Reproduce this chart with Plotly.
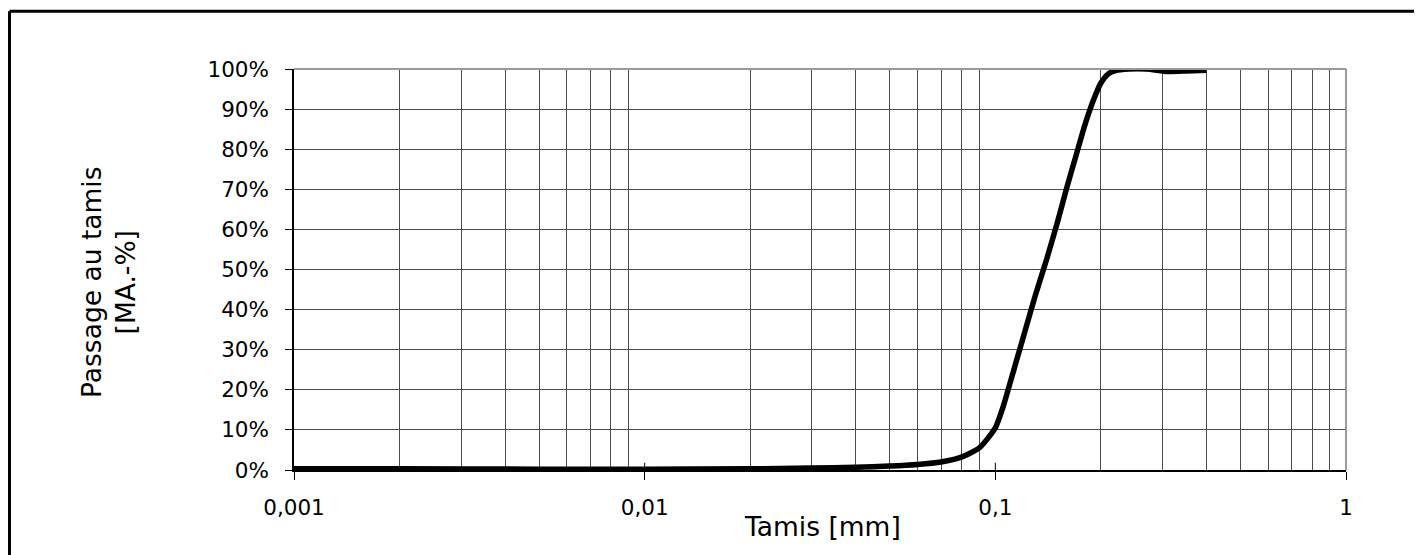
import plotly.graph_objects as go

# Data (sieve size in mm, passing in %)
sieve_mm = [0.001, 0.002, 0.005, 0.01, 0.02, 0.03, 0.04, 0.05, 0.06, 0.07,
            0.08, 0.09, 0.1, 0.105, 0.11, 0.12, 0.13, 0.14, 0.15, 0.16,
            0.17, 0.18, 0.19, 0.20, 0.21, 0.22, 0.24, 0.27, 0.31, 0.35, 0.40]
passing_pct = [0.3, 0.3, 0.2, 0.2, 0.3, 0.5, 0.7, 1.0, 1.4, 2.0,
               3.2, 5.5, 10.5, 15.5, 21.5, 33.0, 43.5, 52.5, 61.5, 70.5,
               78.5, 86.0, 92.0, 96.5, 98.8, 99.6, 100.0, 100.0, 99.4, 99.5, 99.7]

x_tickvals = [0.001, 0.01, 0.1, 1]
x_ticktext = ["0,001", "0,01", "0,1", "1"]
y_tickvals = [0, 10, 20, 30, 40, 50, 60, 70, 80, 90, 100]
y_ticktext = ["0%", "10%", "20%", "30%", "40%", "50%", "60%", "70%", "80%", "90%", "100%"]
minor_vals = [k * 10.0 ** e for e in (-3, -2, -1) for k in range(2, 10)]

FONT = "Verdana, DejaVu Sans, sans-serif"
OFF = 8  # default page body margin
W, H = 1422 - OFF, 555 - OFF
PL, PR, PT, PB = 294, 1346, 69, 470  # plot area in window pixels
L, T = PL - OFF, PT - OFF
R, B = W - (PR - OFF), H - (PB - OFF)
pw, ph = PR - PL, PB - PT

def px_x(p):
    return (p - PL) / pw

def px_y(p):
    return (PB - p) / ph

fig = go.Figure()
fig.add_trace(go.Scatter(
    x=sieve_mm, y=passing_pct, mode="lines",
    line=dict(color="black", width=5.5, shape="spline", smoothing=0.6),
    showlegend=False, hoverinfo="skip"))

shapes = []
shapes.append(dict(type="line", xref="paper", yref="paper", x0=0, x1=1, y0=1, y1=1,
                   line=dict(color="#9a9a9a", width=2)))
shapes.append(dict(type="line", xref="paper", yref="paper", x0=1, x1=1, y0=0, y1=1,
                   line=dict(color="#9a9a9a", width=2)))
for v in x_tickvals[1:-1]:
    shapes.append(dict(type="line", xref="x", yref="y", x0=v, x1=v, y0=0, y1=1.8,
                       line=dict(color="black", width=1)))
shapes.append(dict(type="line", xref="paper", yref="paper",
                   x0=px_x(9.5), x1=px_x(1440), y0=px_y(11.3), y1=px_y(11.3),
                   line=dict(color="black", width=3)))
shapes.append(dict(type="line", xref="paper", yref="paper",
                   x0=px_x(9.5), x1=px_x(9.5), y0=px_y(11.3), y1=px_y(570),
                   line=dict(color="black", width=3)))

fig.update_layout(
    width=W, height=H,
    margin=dict(l=L, r=R, t=T, b=B),
    paper_bgcolor="white", plot_bgcolor="white",
    font=dict(family=FONT, size=21.5, color="black"),
    shapes=shapes,
    annotations=[
        dict(text="Tamis [mm]", xref="paper", yref="paper",
             x=px_x(822), y=px_y(526), xanchor="center", yanchor="middle",
             showarrow=False, font=dict(family=FONT, size=26.5, color="black")),
        dict(text="Passage au tamis<br>[MA.-%]", xref="paper", yref="paper",
             x=px_x(108), y=px_y(282), xanchor="center", yanchor="middle",
             textangle=-90, showarrow=False,
             font=dict(family=FONT, size=26.5, color="black")),
    ],
)

fig.update_xaxes(
    type="log", range=[-3, 0],
    tickvals=x_tickvals, ticktext=x_ticktext,
    showgrid=True, gridcolor="white", gridwidth=1,
    ticks="outside", ticklen=8, tickcolor="black", tickwidth=1,
    showline=True, linecolor="black", linewidth=1.5,
    ticklabelstandoff=9,
    zeroline=False,
    minor=dict(tickvals=minor_vals, showgrid=True, gridcolor="#4a4a4a",
               gridwidth=1, ticks=""),
)
fig.update_yaxes(
    range=[0, 100], tickvals=y_tickvals, ticktext=y_ticktext,
    showgrid=True, gridcolor="#4a4a4a", gridwidth=1,
    ticks="outside", ticklen=7, tickcolor="black", tickwidth=1,
    showline=True, linecolor="black", linewidth=1.5,
    ticklabelstandoff=12,
    zeroline=False,
)

fig.write_html("out.html")
